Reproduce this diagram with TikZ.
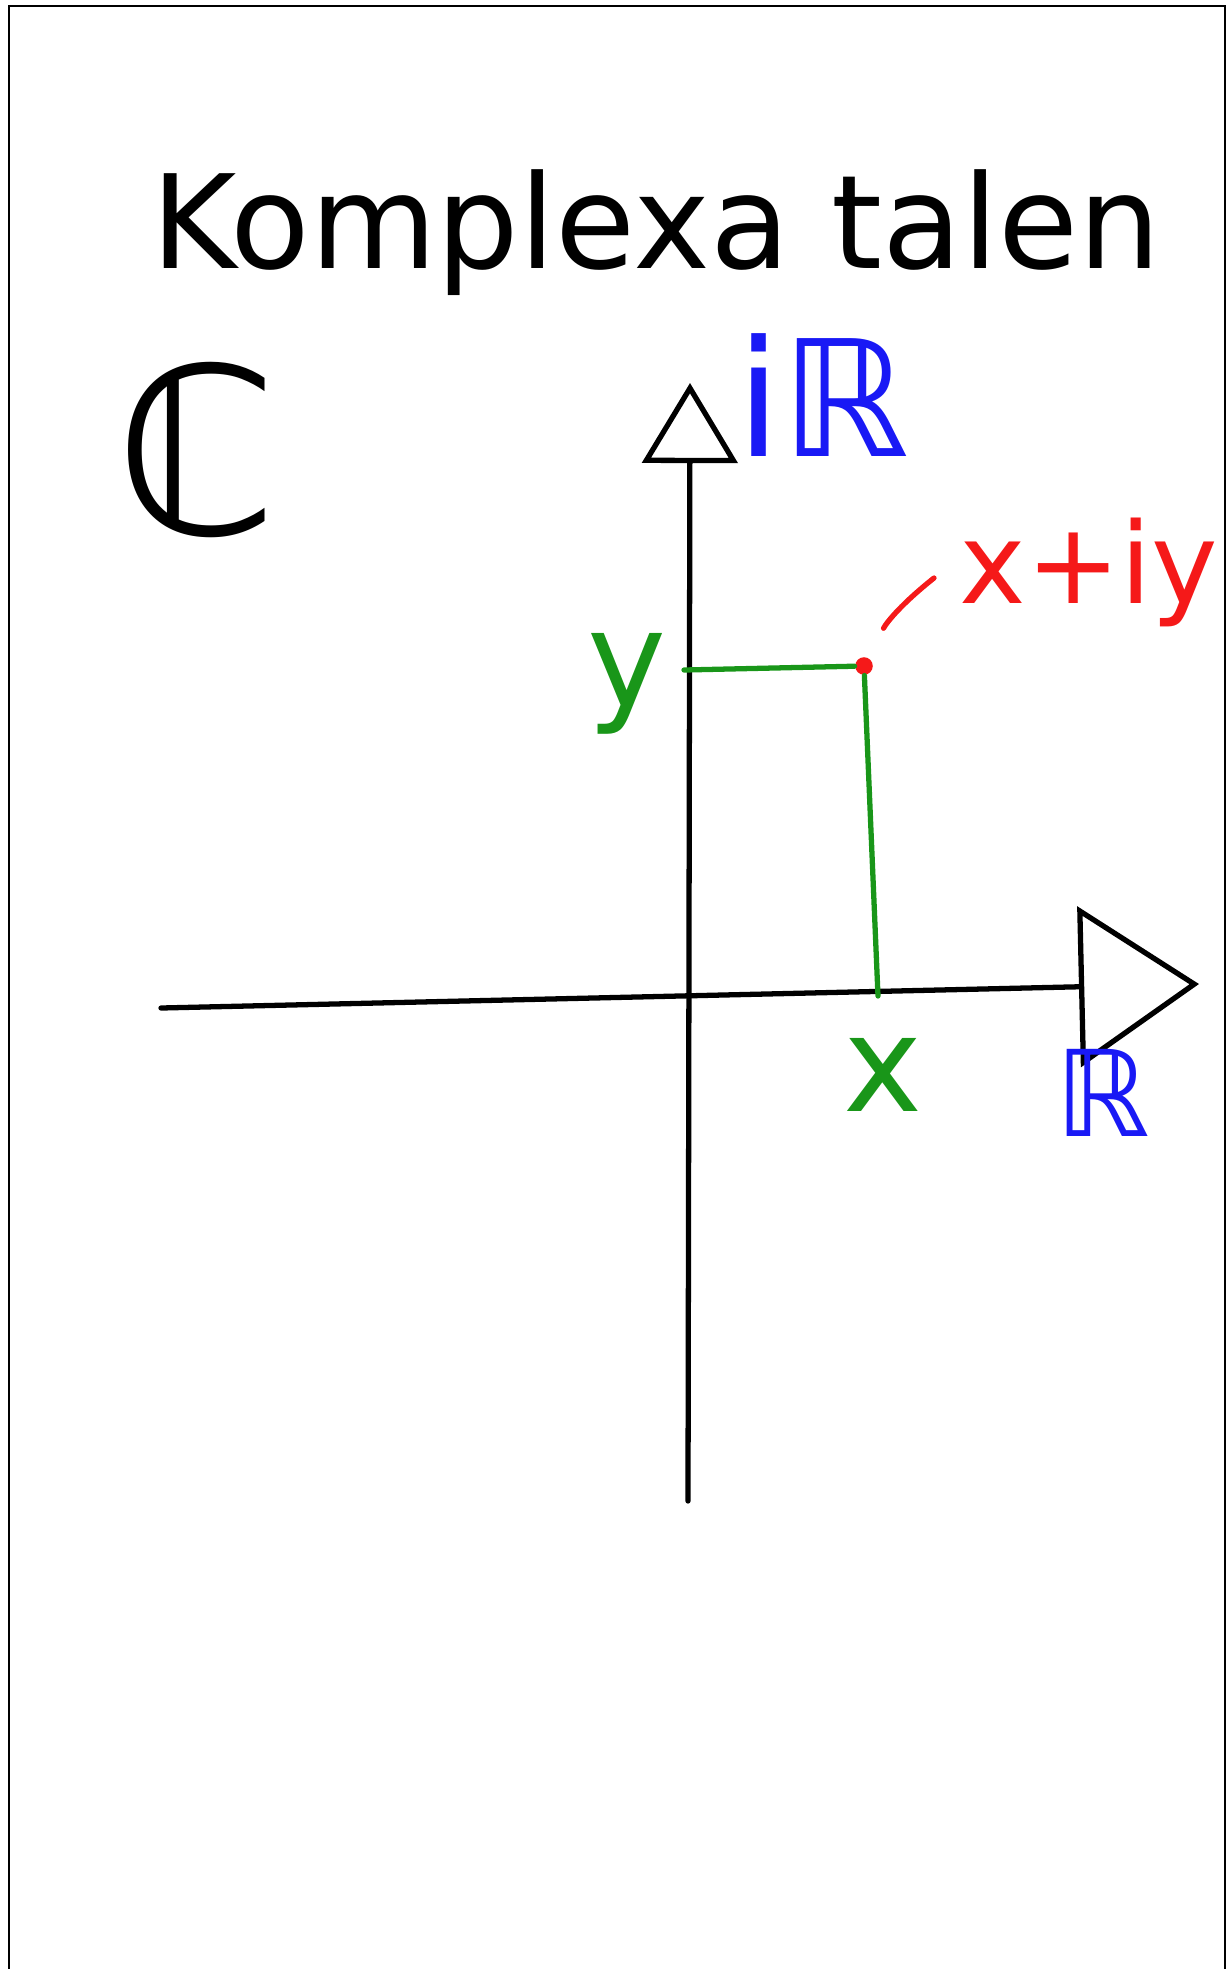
\documentclass[tikz,border=0pt]{standalone}
\usepackage{fontspec}
\setmainfont{DejaVu Sans}
\usepackage{tikz}
\usetikzlibrary{arrows.meta}

\definecolor{pengreen}{RGB}{25,150,25}
\definecolor{penblue}{RGB}{25,25,245}
\definecolor{penred}{RGB}{245,25,25}

\begin{document}
\begin{tikzpicture}[
  x=0.01cm, y=-0.01cm,
  pen/.style={line width=1.5pt, line cap=round, line join=round},
  vaxis/.style={pen, -{Triangle[open, length=8mm, width=9.5mm]}},
  haxis/.style={pen, -{Triangle[open, length=12mm, width=16mm]}},
  guide/.style={pen, pengreen},
  lbl/.style={inner sep=0pt, anchor=base},
  title/.style={lbl, font=\fontsize{37}{42}\selectfont},
  setname/.style={lbl, text=penblue},
  coord/.style={lbl, text=pengreen, font=\fontsize{38}{42}\selectfont}
]
  \useasboundingbox (0,0) rectangle (1227,1969);
  % sheet edge
  \draw[line width=0.8pt] (9,1975) -- (9,6) -- (1225,6) -- (1225,1975);

  \node[title] (head) at (656,268) {Komplexa talen};
  \node[inner sep=0pt, font=\fontsize{66}{70}\selectfont] (cset) at (197,450) {ℂ};

  % axes
  \coordinate (o) at (684,998);
  \coordinate (xlo) at (161,1008);
  \coordinate (xhi) at (1199,984);
  \coordinate (ylo) at (688,1501);
  \coordinate (yhi) at (690,383);
  \draw[haxis] (xlo) -- (xhi);
  \draw[vaxis] (ylo) -- (yhi);
  \node[setname, font=\fontsize{46}{50}\selectfont] (iaxis) at (823,456) {iℝ};
  \node[setname, font=\fontsize{34}{38}\selectfont] (raxis) at (1103,1136) {ℝ};

  % the point x+iy
  \node[circle, fill=penred, inner sep=0pt, minimum size=5pt] (z) at (864,666) {};
  \coordinate (yfoot) at (684,670);
  \coordinate (xfoot) at (878,996);
  \draw[guide] (z) -- (yfoot);
  \draw[guide] (z) -- (xfoot);
  \node[coord] (ylbl) at (627,706) {y};
  \node[coord] (xlbl) at (883,1111) {x};

  \node[lbl, text=penred, font=\fontsize{32}{36}\selectfont] (zlbl) at (1089,603) {x+iy};
  \coordinate (ztip) at (934,578);
  \draw[pen, penred, shorten <=3.3mm] (z) to[bend left=12] (ztip);
\end{tikzpicture}
\end{document}
